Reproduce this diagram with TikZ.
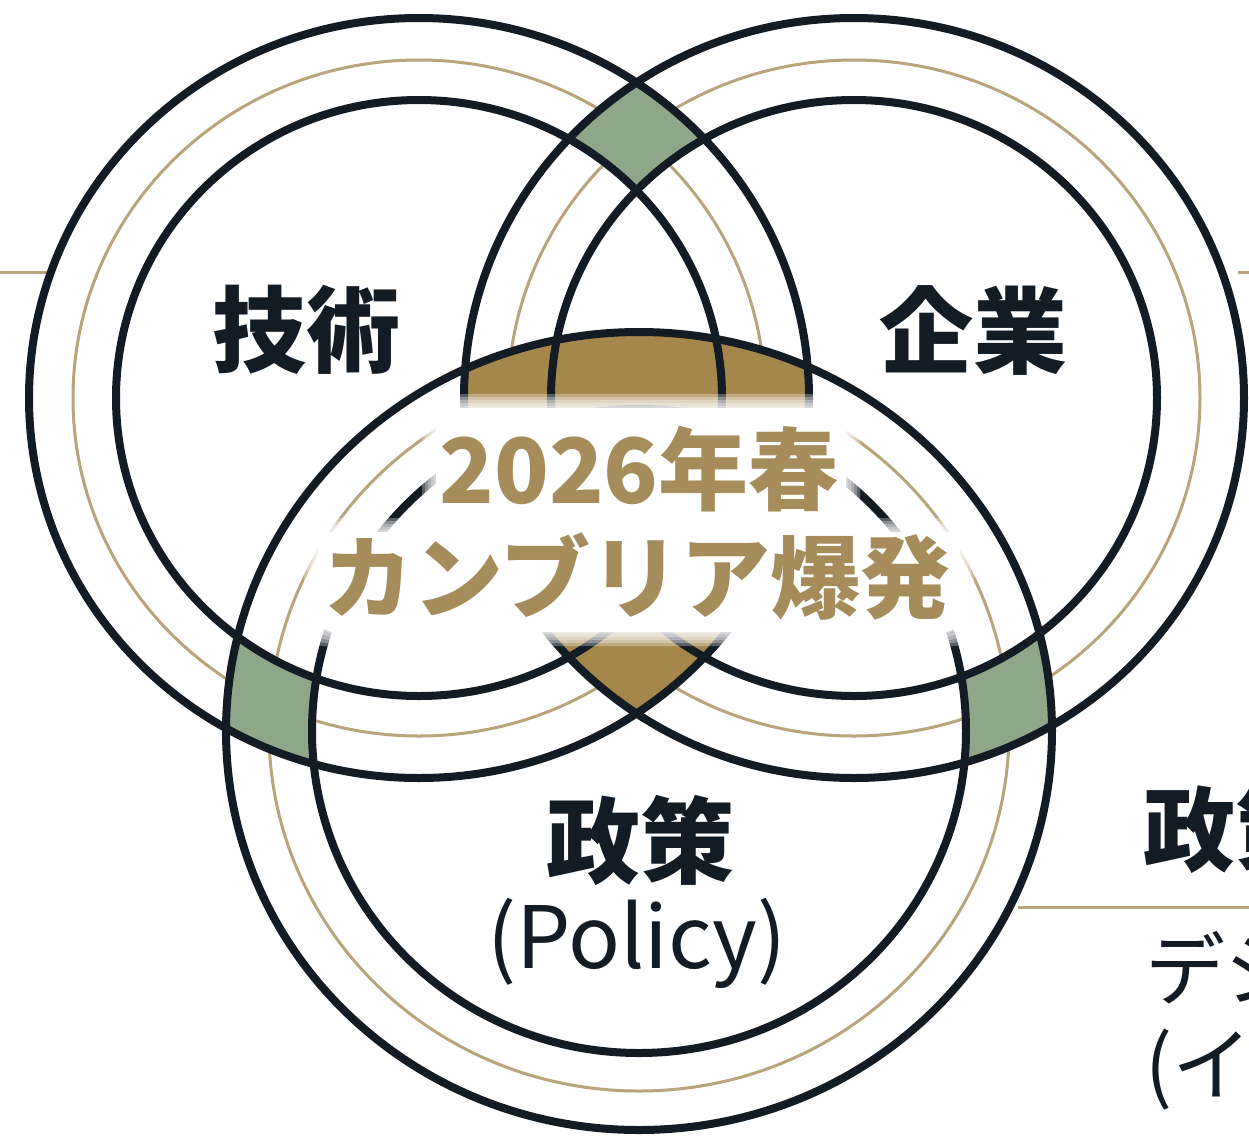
\documentclass[tikz,border=0pt]{standalone}
\usepackage{fontspec}
\newfontfamily\jp{Noto Sans CJK JP}
\definecolor{ink}{HTML}{131B25}
\definecolor{goldthin}{HTML}{B9A47C}
\definecolor{goldfill}{HTML}{A6874B}
\definecolor{sage}{HTML}{8FA689}
\definecolor{goldtext}{HTML}{A68C5B}
\begin{document}
\begin{tikzpicture}[x=0.5pt,y=-0.5pt,
  darkline/.style={draw=ink, line width=4pt},
  goldline/.style={draw=goldthin, line width=1.5pt},
  Lout/.style={insert path={(L) ellipse [x radius=390, y radius=380]}},
  Lgold/.style={insert path={(L) ellipse [x radius=346, y radius=338]}},
  Lin/.style={insert path={(L) ellipse [x radius=303, y radius=298]}},
  Rout/.style={insert path={(R) ellipse [x radius=390, y radius=380]}},
  Rgold/.style={insert path={(R) ellipse [x radius=346, y radius=338]}},
  Rin/.style={insert path={(R) ellipse [x radius=303, y radius=298]}},
  Bout/.style={insert path={(B) ellipse [x radius=413, y radius=399]}},
  Bgold/.style={insert path={(B) ellipse [x radius=370, y radius=360]}},
  Bin/.style={insert path={(B) ellipse [x radius=327, y radius=322]}},
  bigrect/.style={insert path={(-10,-10) rectangle (1260,1160)}},
  labeltext/.style={font=\jp\bfseries\fontsize{47pt}{56pt}\selectfont, text=ink, inner sep=0pt},
  titletext/.style={font=\jp\bfseries\fontsize{45pt}{56pt}\selectfont, text=goldtext, inner sep=0pt},
  subtext/.style={font=\jp\fontsize{43pt}{50pt}\selectfont, text=ink, inner sep=0pt},
  sidetext/.style={font=\jp\fontsize{40pt}{48pt}\selectfont, text=ink, inner sep=0pt, anchor=west},
  connector/.style={draw=goldthin, line width=1.5pt}
]
\clip (0,0) rectangle (1249,1142);
\fill[white] (0,0) rectangle (1249,1142);

\coordinate (L) at (419,398);
\coordinate (R) at (854,398);
\coordinate (B) at (639,731);

% thin gold middle rings
\draw[goldline, Lgold];
\draw[goldline, Rgold];
\draw[goldline, Bgold];

% pairwise annulus intersections (green)
\begin{scope}
  \clip[Lout]; \clip[Rout];
  \fill[sage, even odd rule, bigrect, Lin, Rin];
\end{scope}
\begin{scope}
  \clip[Lout]; \clip[Bout];
  \fill[sage, even odd rule, bigrect, Lin, Bin];
\end{scope}
\begin{scope}
  \clip[Rout]; \clip[Bout];
  \fill[sage, even odd rule, bigrect, Rin, Bin];
\end{scope}
\begin{scope}
  \clip[Lin]; \fill[white, Rin];
\end{scope}
\begin{scope}
  \clip[Lin]; \fill[white, Bin];
\end{scope}
\begin{scope}
  \clip[Rin]; \fill[white, Bin];
\end{scope}

% triple intersection (gold)
\begin{scope}
  \clip[Lout]; \clip[Rout];
  \fill[goldfill, Bout];
\end{scope}

% connectors to the side panels
\coordinate (lineLa) at (0,272);
\coordinate (lineLb) at (51,272);
\coordinate (lineRa) at (1238,272);
\coordinate (lineRb) at (1249,272);
\coordinate (lineBa) at (1018,907);
\coordinate (lineBb) at (1249,907);
\draw[connector] (lineLa) -- (lineLb);
\draw[connector] (lineRa) -- (lineRb);
\draw[connector] (lineBa) -- (lineBb);

% dark ring outlines
\draw[darkline, Lout];
\draw[darkline, Lin];
\draw[darkline, Rout];
\draw[darkline, Rin];
\draw[darkline, Bout];
\draw[darkline, Bin];

% soft white glow behind the central title
\foreach \d in {14,11,8,5,2}{
  \fill[white, fill opacity=0.3, rounded corners=10pt]
    ({436-\d},{408-\d}) rectangle ({846+\d},{522+\d})
    ({318-\d},{532-\d}) rectangle ({960+\d},{632+\d})
    ({470-\d},{500-\d}) rectangle ({806+\d},{560+\d});
}
\fill[white, rounded corners=8pt]
    (436,408) rectangle (846,522)
    (318,532) rectangle (960,632)
    (470,500) rectangle (806,560);

% labels
\node[labeltext] (tech) at (306,330) {技術};
\node[labeltext] (corp) at (973,330) {企業};
\node[titletext] (year) at (639,469) {2026年春};
\node[titletext] (cambrian) at (637,577) {カンブリア爆発};
\node[labeltext] (policy) at (640,840) {政策};
\node[subtext] (policyen) at (637,943) {(Policy)};

% side panel (cut off by the right edge, as in the reference)
\node[sidetext, font=\jp\bfseries\fontsize{46pt}{52pt}\selectfont] (sidehead) at (1143,829) {政策};
\node[sidetext] (sideline1) at (1145,968) {デジ};
\node[sidetext] (sideline2) at (1145,1070) {(イ};
\end{tikzpicture}
\end{document}
